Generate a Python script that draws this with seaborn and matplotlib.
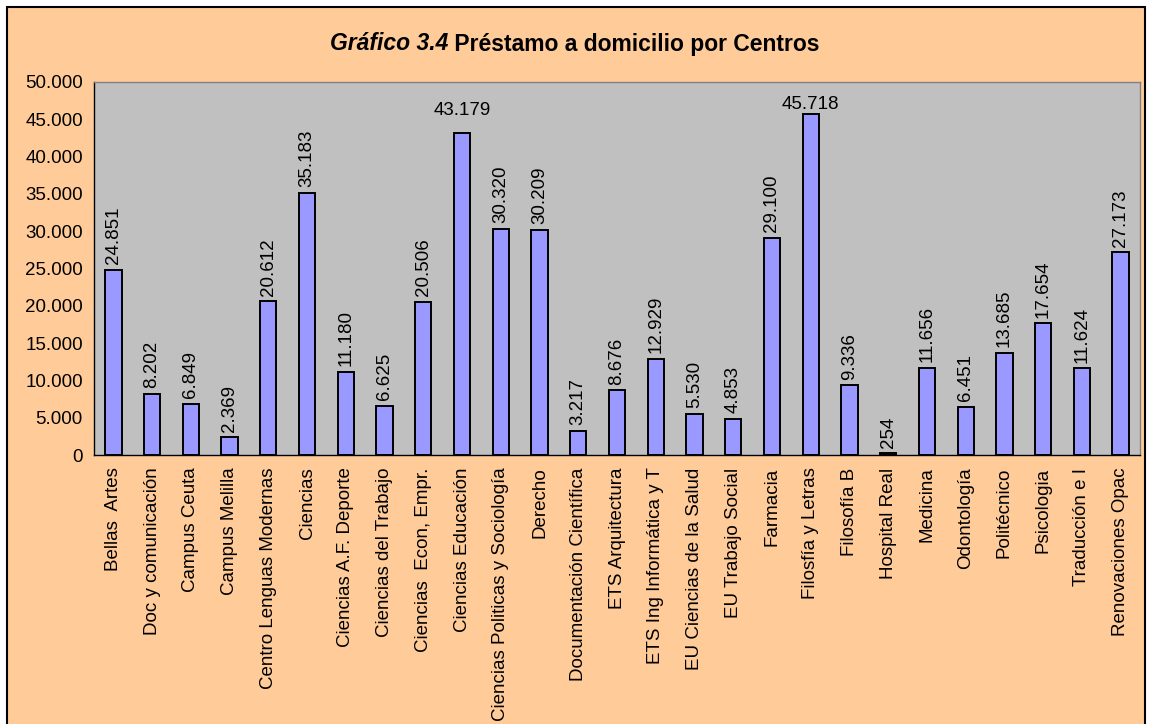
import numpy as np
import matplotlib.pyplot as plt
import seaborn as sns
from matplotlib.patches import Rectangle

# Datos del gráfico
centros = ["Bellas  Artes", "Doc y comunicación", "Campus Ceuta", "Campus Melilla",
           "Centro Lenguas Modernas", "Ciencias", "Ciencias A.F. Deporte",
           "Ciencias del Trabajo", "Ciencias  Econ, Empr.", "Ciencias Educación",
           "Ciencias Politicas y Sociología", "Derecho", "Documentación Científica",
           "ETS Arquitectura", "ETS Ing Informática y T", "EU Ciencias de la Salud",
           "EU Trabajo Social", "Farmacia", "Filosfía y Letras", "Filosofía B",
           "Hospital Real", "Medicina", "Odontología", "Politécnico", "Psicologia",
           "Traducción e I", "Renovaciones Opac"]
prestamos = [24851, 8202, 6849, 2369, 20612, 35183, 11180, 6625, 20506, 43179,
             30320, 30209, 3217, 8676, 12929, 5530, 4853, 29100, 45718, 9336,
             254, 11656, 6451, 13685, 17654, 11624, 27173]
yticks = list(range(0, 50001, 5000))

sns.set_style("white")
plt.rcParams['font.family'] = ['Liberation Sans', 'DejaVu Sans']
plt.rcParams['text.color'] = 'black'
plt.rcParams['xtick.color'] = 'black'
plt.rcParams['ytick.color'] = 'black'

FS = 13.5

def fmt(v):
    return f"{v:,}".replace(",", ".")

fig = plt.figure(figsize=(11.5, 7.24), dpi=100)
fig.patch.set_facecolor("white")
fig.patches.append(Rectangle((7 / 1150, -0.01), 1138 / 1150, 1 - 7 / 724 + 0.01,
                             transform=fig.transFigure, facecolor="#FFCC99",
                             edgecolor="black", lw=1.5, zorder=-10))

ax = fig.add_axes([94 / 1150, 1 - 455 / 724, 1046 / 1150, 373 / 724])
ax.set_facecolor("#C0C0C0")
sns.barplot(x=centros, y=prestamos, color="#9999FF", edgecolor="black",
            linewidth=1.4, width=0.42, saturation=1, ax=ax)

ax.set_ylim(0, 50000)
ax.set_xlim(-0.5, len(centros) - 0.5)
ax.set_yticks(yticks)
ax.set_yticklabels([fmt(t) for t in yticks], fontsize=FS)
ax.set_xticks(range(len(centros)))
ax.set_xticklabels(centros, rotation=90, fontsize=FS)
ax.set_xticks(np.arange(-0.5, len(centros), 1), minor=True)
ax.tick_params(axis="x", which="major", length=0, pad=9)
ax.tick_params(axis="x", which="minor", length=5, width=1, color="black", direction="out")
ax.tick_params(axis="y", length=5, width=1, color="black", direction="out", pad=3)
ax.set_xlabel("")
ax.set_ylabel("")

for s in ["top", "right"]:
    ax.spines[s].set_color("#808080")
    ax.spines[s].set_linewidth(1)
for s in ["left", "bottom"]:
    ax.spines[s].set_color("black")
    ax.spines[s].set_linewidth(1)

# Etiquetas de valores
for i, v in enumerate(prestamos):
    if v > 40000:
        ax.text(i, min(v + 3000, 47000), fmt(v), ha="center", va="center", fontsize=FS)
    else:
        ax.annotate(fmt(v), (i, v), xytext=(0, 4), textcoords="offset points",
                    rotation=90, ha="center", va="bottom", fontsize=FS)

# Título centrado (parte en cursiva + parte normal)
t1 = fig.text(0.5, 1 - 44 / 724, "Gráfico 3.4", ha="left", va="center",
              fontsize=16.5, fontweight="bold", fontstyle="italic")
t2 = fig.text(0.5, 1 - 44 / 724, " Préstamo a domicilio por Centros", ha="left", va="center",
              fontsize=16.5, fontweight="bold")
fig.canvas.draw()
r = fig.canvas.get_renderer()
w1 = t1.get_window_extent(r).width / fig.bbox.width
w2 = t2.get_window_extent(r).width / fig.bbox.width
x0 = 0.5 - (w1 + w2) / 2
t1.set_x(x0)
t2.set_x(x0 + w1)

plt.savefig("out.png", dpi=100, facecolor=fig.get_facecolor())
